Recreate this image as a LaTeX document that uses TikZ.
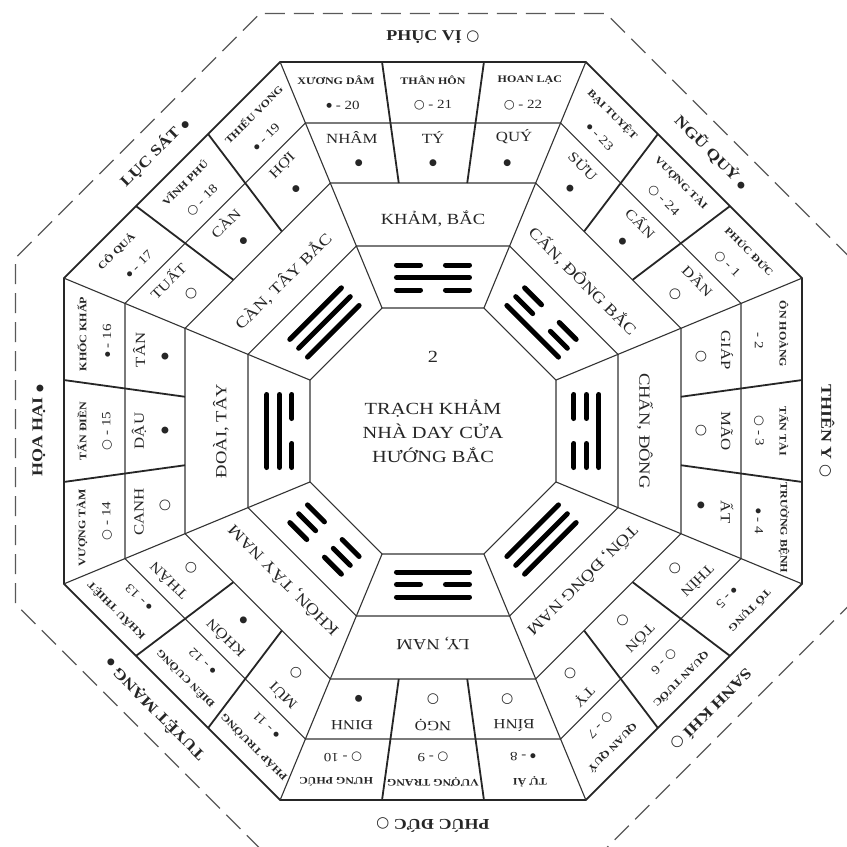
\documentclass[tikz,border=0pt]{standalone}
\usepackage{fontspec}
\setmainfont{Liberation Serif}[FakeStretch=1.2]
\newfontfamily\symf{DejaVu Sans}
\newcommand\Wc{{\symf ○}}
\newcommand\Bd{\raisebox{1.8pt}{\symf\fontsize{6.5}{6.5}\selectfont ●}}
\newcommand\BD{{\symf\fontsize{9}{9}\selectfont ●}}
\tikzset{
  ln/.style={line width=1.1pt, draw=black!80},
  thk/.style={line width=1.8pt, draw=black!85},
  barline/.style={line width=5pt, line cap=round, draw=black},
  olab/.style={font=\fontsize{15}{15}\selectfont\bfseries, text=black!85, inner sep=0pt},
  cname/.style={font=\fontsize{10}{10}\selectfont\bfseries, text=black!85, inner sep=0pt},
  cnum/.style={font=\fontsize{12.5}{12.5}\selectfont, text=black!85, inner sep=0pt},
  bname/.style={font=\fontsize{14}{14}\selectfont, text=black!85, inner sep=0pt},
  bsym/.style={font=\fontsize{14}{14}\selectfont, text=black!85, inner sep=0pt},
  dname/.style={font=\fontsize{15.5}{15.5}\selectfont, text=black!85, inner sep=0pt},
  ctext/.style={font=\fontsize{17}{24}\selectfont, text=black!85, align=center, inner sep=0pt},
}
% outer label
\newcommand\OuterLab[2]{%
  \begin{scope}[rotate=-45*#1, transform shape]
    \node[olab] (ol#1) at (0,394) {#2};
  \end{scope}}
% outer ring: k, name1, num1, name2, num2, name3, num3
\newcommand\OuterRing[7]{%
  \begin{scope}[rotate=-45*#1, transform shape]
    \node[cname] (oa#1) at (-96.9,351) {#2};
    \node[cnum]  (ob#1) at (-90.0,326) {#3};
    \node[cname] (oc#1) at (0,351) {#4};
    \node[cnum]  (od#1) at (0,326) {#5};
    \node[cname] (oe#1) at (96.9,351) {#6};
    \node[cnum]  (of#1) at (90.0,326) {#7};
  \end{scope}}
% second ring
\newcommand\MidRing[7]{%
  \begin{scope}[rotate=-45*#1, transform shape]
    \node[bname] (ma#1) at (-81.1,294) {#2};
    \node[bsym]  (mb#1) at (-74.2,268) {#3};
    \node[bname] (mc#1) at (0,294) {#4};
    \node[bsym]  (md#1) at (0,268) {#5};
    \node[bname] (me#1) at (81.1,294) {#6};
    \node[bsym]  (mf#1) at (74.2,268) {#7};
  \end{scope}}
% third ring
\newcommand\DirRing[2]{%
  \begin{scope}[rotate=-45*#1, transform shape]
    \node[dname] (dr#1) at (0,212) {#2};
  \end{scope}}
% trigram bar: apothem, type (1 solid, 0 broken)
\newcommand\TriBar[2]{%
  \ifnum#2=1 \draw[barline] (-36.5,#1) -- (36.5,#1);
  \else \draw[barline] (-36.5,#1) -- (-12.5,#1) (12.5,#1) -- (36.5,#1);\fi}
% trigram: k, inner, middle, outer
\newcommand\Trigram[4]{%
  \begin{scope}[rotate=-45*#1]
    \TriBar{141}{#2}\TriBar{153.5}{#3}\TriBar{166}{#4}
  \end{scope}}
\begin{document}
\begin{tikzpicture}[x=1pt,y=1pt]
\useasboundingbox (-433,-416) rectangle (414,431);
\fill[white] (-433,-416) rectangle (414,431);
% dashed outer octagon
\draw[line width=1.3pt, draw=black!65, dash pattern=on 20pt off 9pt]
  (22.5:452) \foreach \k in {1,...,7} { -- (22.5+45*\k:452) } -- cycle;
% rings
\foreach \a in {123,185,248,308} {
  \pgfmathsetmacro\R{\a*1.0823922}
  \draw[ln] (22.5:\R) \foreach \k in {1,...,7} { -- (22.5+45*\k:\R) } -- cycle;
}
\draw[thk] (22.5:399.4) \foreach \k in {1,...,7} { -- (22.5+45*\k:399.4) } -- cycle;
% sector boundaries at vertices
\foreach \k in {0,...,7} {
  \draw[ln] (22.5+45*\k:133.13) -- (22.5+45*\k:399.4);
}
% dividers in outer two rings
\foreach \k in {0,...,7} {
  \begin{scope}[rotate=-45*\k]
    \draw[thk] (-34.24,248) -- (-50.95,369);
    \draw[thk] (34.24,248) -- (50.95,369);
  \end{scope}
}
% sectors
\OuterLab{0}{PHỤC VỊ \Wc}
\OuterLab{1}{NGŨ QUỶ \BD}
\OuterLab{2}{THIÊN Y \Wc}
\OuterLab{3}{SANH KHÍ \Wc}
\OuterLab{4}{PHÚC ĐỨC \Wc}
\OuterLab{5}{TUYỆT MẠNG \BD}
\OuterLab{6}{HỌA HẠI \BD}
\OuterLab{7}{LỤC SÁT \BD}
\OuterRing{0}{XƯƠNG DÂM}{\Bd{} - 20}{THÂN HÔN}{\Wc{} - 21}{HOAN LẠC}{\Wc{} - 22}
\OuterRing{1}{BẠI TUYỆT}{\Bd{} - 23}{VƯỢNG TÀI}{\Wc{} - 24}{PHÚC ĐỨC}{\Wc{} - 1}
\OuterRing{2}{ÔN HOÀNG}{- 2}{TẤN TÀI}{\Wc{} - 3}{TRƯỜNG BỆNH}{\Bd{} - 4}
\OuterRing{3}{TỐ TỤNG}{\Bd{} - 5}{QUAN TƯỚC}{\Wc{} - 6}{QUAN QUÝ}{\Wc{} - 7}
\OuterRing{4}{TỰ ẢI}{\Bd{} - 8}{VƯỢNG TRANG}{\Wc{} - 9}{HƯNG PHÚC}{\Wc{} - 10}
\OuterRing{5}{PHÁP TRƯỜNG}{\Bd{} - 11}{ĐIÊN CUỒNG}{\Bd{} - 12}{KHẨU THIỆT}{\Bd{} - 13}
\OuterRing{6}{VƯỢNG TÀM}{\Wc{} - 14}{TẤN ĐIỀN}{\Wc{} - 15}{KHỐC KHẤP}{\Bd{} - 16}
\OuterRing{7}{CÔ QUẢ}{\Bd{} - 17}{VĨNH PHÚ}{\Wc{} - 18}{THIẾU VONG}{\Bd{} - 19}
\MidRing{0}{NHÂM}{\BD}{TÝ}{\BD}{QUÝ}{\BD}
\MidRing{1}{SỬU}{\BD}{CẤN}{\BD}{DẦN}{\Wc}
\MidRing{2}{GIÁP}{\Wc}{MÃO}{\Wc}{ẤT}{\BD}
\MidRing{3}{THÌN}{\Wc}{TỐN}{\Wc}{TỴ}{\Wc}
\MidRing{4}{BÍNH}{\Wc}{NGỌ}{\Wc}{ĐINH}{\BD}
\MidRing{5}{MÙI}{\Wc}{KHÔN}{\BD}{THÂN}{\Wc}
\MidRing{6}{CANH}{\Wc}{DẬU}{\BD}{TÂN}{\BD}
\MidRing{7}{TUẤT}{\Wc}{CÀN}{\BD}{HỢI}{\BD}
\DirRing{0}{KHẢM, BẮC}
\DirRing{1}{CẤN, ĐÔNG BẮC}
\DirRing{2}{CHẤN, ĐÔNG}
\DirRing{3}{TỐN, ĐÔNG NAM}
\DirRing{4}{LY, NAM}
\DirRing{5}{KHÔN, TÂY NAM}
\DirRing{6}{ĐOÀI, TÂY}
\DirRing{7}{CÀN, TÂY BẮC}
\Trigram{0}{0}{1}{0}
\Trigram{1}{1}{0}{0}
\Trigram{2}{0}{0}{1}
\Trigram{3}{1}{1}{1}
\Trigram{4}{1}{0}{1}
\Trigram{5}{0}{0}{0}
\Trigram{6}{0}{1}{1}
\Trigram{7}{1}{1}{1}
% centre
\node[ctext] (num) at (0,74) {2};
\node[ctext] (title) at (0,0) {TRẠCH KHẢM\\NHÀ DAY CỬA\\HƯỚNG BẮC};
\end{tikzpicture}
\end{document}
